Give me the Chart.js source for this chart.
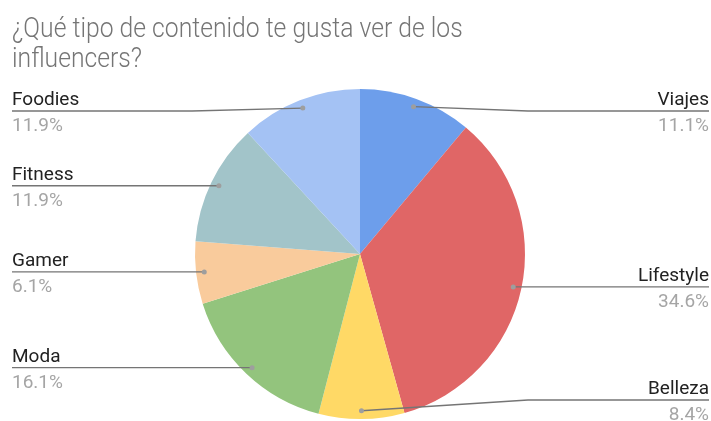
<!DOCTYPE html>
<html>
<head>
<meta charset="utf-8">
<script src="https://cdn.jsdelivr.net/npm/chart.js@4"></script>
<style>
  html, body { margin: 0; padding: 0; background: #fff; }
  #wrap { width: 711px; height: 421px; }
</style>
</head>
<body>
<div id="wrap"><canvas id="pie"></canvas></div>
<script>
const titleLines = ['¿Qué tipo de contenido te gusta ver de los', 'influencers?'];
const categories = ['Viajes', 'Lifestyle', 'Belleza', 'Moda', 'Gamer', 'Fitness', 'Foodies'];
const percentages = [11.1, 34.6, 8.4, 16.1, 6.1, 11.9, 11.9];
const sliceColors = ['#6d9eeb', '#e06666', '#ffd966', '#93c47d', '#f9cb9c', '#a2c4c9', '#a4c2f4'];

// titulo un poco estrecho, como en la captura
const narrowTitle = {
    id: 'narrowTitle',
    afterDraw(chart) {
        const ctx = chart.ctx;
        ctx.save();
        ctx.fillStyle = '#757575';
        ctx.font = '300 27px Roboto';
        ctx.textAlign = 'left';
        ctx.textBaseline = 'alphabetic';
        ctx.translate(12, 0);
        ctx.scale(0.915, 1);
        titleLines.forEach((line, i) => {
            ctx.fillText(line, 0, 37 + i * 30);
        });
        ctx.restore();
    }
};

// etiquetas con linea guia, al estilo de Google Sheets
const leaderLabels = {
    id: 'leaderLabels',
    afterDraw(chart) {
        const ctx = chart.ctx;
        const meta = chart.getDatasetMeta(0);
        const area = chart.chartArea;
        ctx.save();
        meta.data.forEach((arc, i) => {
            const p = arc.getProps(['x', 'y', 'startAngle', 'endAngle', 'outerRadius'], true);
            const mid = (p.startAngle + p.endAngle) / 2;
            const dx = p.x + Math.cos(mid) * p.outerRadius * 0.95;
            const dy = p.y + Math.sin(mid) * p.outerRadius * 0.95;
            const right = Math.cos(mid) >= 0;
            const lineY = Math.min(Math.max(dy, area.top + 22), chart.height - 21);
            const bendX = right ? p.x + p.outerRadius + 3 : p.x - p.outerRadius - 3;
            const endX = right ? 709 : 12;

            ctx.strokeStyle = '#757575';
            ctx.lineWidth = 1.3;
            ctx.beginPath();
            ctx.moveTo(dx, dy);
            ctx.lineTo(bendX, lineY);
            ctx.lineTo(endX, lineY);
            ctx.stroke();

            ctx.fillStyle = '#9e9e9e';
            ctx.beginPath();
            ctx.arc(dx, dy, 2.5, 0, Math.PI * 2);
            ctx.fill();

            ctx.textAlign = right ? 'right' : 'left';
            ctx.textBaseline = 'alphabetic';
            ctx.font = '19px Roboto';
            ctx.fillStyle = '#222222';
            ctx.fillText(categories[i], endX, lineY - 6);
            ctx.fillStyle = '#a5a5a5';
            ctx.fillText(percentages[i].toFixed(1) + '%', endX, lineY + 20);
        });
        ctx.restore();
    }
};

new Chart(document.getElementById('pie'), {
    type: 'pie',
    data: {
        labels: categories,
        datasets: [{
            data: percentages,
            backgroundColor: sliceColors,
            borderWidth: 0
        }]
    },
    options: {
        responsive: true,
        maintainAspectRatio: false,
        animation: false,
        layout: { padding: { left: 12, right: 3, top: 89, bottom: 2 } },
        plugins: {
            legend: { display: false },
            tooltip: { enabled: false },
            title: { display: false }
        }
    },
    plugins: [narrowTitle, leaderLabels]
});
</script>
</body>
</html>
